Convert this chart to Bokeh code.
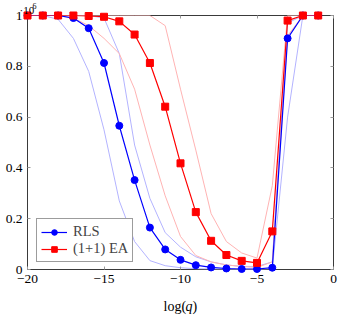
from bokeh.plotting import figure
from bokeh.models import (Range1d, LinearAxis, FixedTicker, CustomJSTickFormatter,
                          Legend, LegendItem)
from bokeh.embed import file_html
from bokeh.resources import INLINE
from bokeh.core.properties import value

# log(q) grid
log_q = [-20, -19, -18, -17, -16, -15, -14, -13, -12, -11,
         -10, -9, -8, -7, -6, -5, -4, -3, -2, -1]

# RLS: median and spread (units of 10^6)
rls_mid = [1.0, 1.0, 1.0, 0.99, 0.95, 0.813, 0.566, 0.352, 0.165, 0.079,
           0.038, 0.017, 0.008, 0.004, 0.002, 0.002, 0.007, 0.91, 1.0, 1.0]
rls_low = [1.0, 1.0, 0.985, 0.91, 0.78, 0.55, 0.27, 0.11, 0.035, 0.015,
           0.007, 0.003, 0.002, 0.001, 0.0, 0.0, 0.003, 0.6, 1.0, 1.0]
rls_high = [1.0, 1.0, 1.0, 1.0, 1.0, 0.99, 0.85, 0.49, 0.28, 0.145,
            0.088, 0.05, 0.03, 0.018, 0.012, 0.012, 0.03, 0.97, 1.0, 1.0]

# (1+1) EA: median and spread (units of 10^6)
ea_mid = [1.0, 1.0, 1.0, 1.0, 0.998, 0.995, 0.977, 0.925, 0.813, 0.641,
          0.418, 0.226, 0.113, 0.057, 0.034, 0.026, 0.15, 0.98, 1.0, 1.0]
ea_low = [1.0, 1.0, 1.0, 0.99, 0.96, 0.91, 0.85, 0.71, 0.49, 0.29,
          0.13, 0.055, 0.03, 0.018, 0.012, 0.008, 0.03, 0.92, 1.0, 1.0]
ea_high = [1.0, 1.0, 1.0, 1.0, 1.0, 1.0, 1.0, 1.0, 1.0, 0.96,
           0.71, 0.47, 0.22, 0.11, 0.065, 0.045, 0.33, 1.0, 1.0, 1.0]

x_ticks = [-20, -15, -10, -5, 0]
y_ticks = [0, 0.2, 0.4, 0.6, 0.8, 1]

FONT = "Liberation Serif"
BLUE = "#0000ff"
RED = "#ff0000"
BLUE_LIGHT = "#b3b3ff"
RED_LIGHT = "#ffb3b3"
FRAME = "#3a3a3a"
TICK = "#9a9a9a"

p = figure(width=342, height=316, output_backend="svg", toolbar_location=None,
           x_range=Range1d(-20, 0), y_range=Range1d(0, 1),
           x_axis_location=None, y_axis_location=None,
           min_border_left=27, min_border_right=9,
           min_border_top=15, min_border_bottom=47)
p.frame_width = 306
p.frame_height = 254
p.grid.visible = False
p.outline_line_color = FRAME
p.outline_line_width = 1
p.background_fill_color = "white"
p.border_fill_color = "white"

minus = CustomJSTickFormatter(code="""
    if (tick < 0) { return '\\u2212' + Math.abs(tick).toString(); }
    return tick.toString();
""")
blank = CustomJSTickFormatter(code="return '';")


def style_axis(ax, labels):
    ax.axis_line_color = None
    ax.major_tick_in = 3
    ax.major_tick_out = 0
    ax.major_tick_line_color = TICK
    ax.major_tick_line_width = 1
    ax.minor_tick_line_color = None
    ax.major_label_text_font = FONT
    ax.major_label_text_font_size = "13.5px"
    ax.major_label_text_color = "black"
    ax.major_label_standoff = 5
    if not labels:
        ax.major_label_text_font_size = "0px"
        ax.major_label_standoff = 0


bottom = LinearAxis(ticker=FixedTicker(ticks=x_ticks), formatter=minus)
top = LinearAxis(ticker=FixedTicker(ticks=x_ticks), formatter=blank)
left = LinearAxis(ticker=FixedTicker(ticks=y_ticks))
right = LinearAxis(ticker=FixedTicker(ticks=y_ticks), formatter=blank)
style_axis(bottom, True)
style_axis(left, True)
style_axis(top, False)
style_axis(right, False)
p.add_layout(bottom, "below")
p.add_layout(left, "left")
p.add_layout(top, "above")
p.add_layout(right, "right")

# spread curves
for ys, col in [(rls_low, BLUE_LIGHT), (rls_high, BLUE_LIGHT),
                (ea_low, RED_LIGHT), (ea_high, RED_LIGHT)]:
    p.line(log_q, ys, line_color=col, line_width=1)

# medians
rls_line = p.line(log_q, rls_mid, line_color=BLUE, line_width=1.2)
rls_pts = p.scatter(log_q, rls_mid, marker="circle", size=7,
                    fill_color=BLUE, line_color=BLUE, level="overlay")
ea_line = p.line(log_q, ea_mid, line_color=RED, line_width=1.2)
ea_pts = p.scatter(log_q, ea_mid, marker="square", size=7,
                   fill_color=RED, line_color=RED, level="overlay")

legend = Legend(items=[LegendItem(label="RLS", renderers=[rls_line, rls_pts]),
                       LegendItem(label="(1+1) EA", renderers=[ea_line, ea_pts])],
                location=(9, 7), orientation="vertical",
                padding=4, spacing=0, margin=0,
                glyph_width=26, glyph_height=14, label_height=14,
                label_standoff=6,
                label_text_font=FONT, label_text_font_size="14.5px",
                border_line_color=FRAME, border_line_width=1,
                background_fill_color="white", background_fill_alpha=1)
p.add_layout(legend, "center")

# axis title: log(q) with italic q, anchored under the middle of the x axis
title_parts = [("log(", -17, "normal"), ("q", 5, "italic"), (")", 12, "normal")]
for txt, dx, style in title_parts:
    p.text(x=[-10], y=[0], text=[txt], x_offset=dx, y_offset=37,
           text_font=value(FONT), text_font_size="14px",
           text_font_style=style, text_baseline="alphabetic",
           text_align="left", text_color="black", level="overlay")

# scale multiplier above the y axis
p.text(x=[-20], y=[1], text=["\u00b710"], x_offset=-8, y_offset=-6,
       text_font=value(FONT), text_font_size="11px",
       text_baseline="alphabetic", text_align="left", text_color="black",
       level="overlay")
p.text(x=[-20], y=[1], text=["6"], x_offset=5, y_offset=-10,
       text_font=value(FONT), text_font_size="8px",
       text_baseline="alphabetic", text_align="left", text_color="black",
       level="overlay")

open("out.html", "w").write(file_html(p, INLINE))
